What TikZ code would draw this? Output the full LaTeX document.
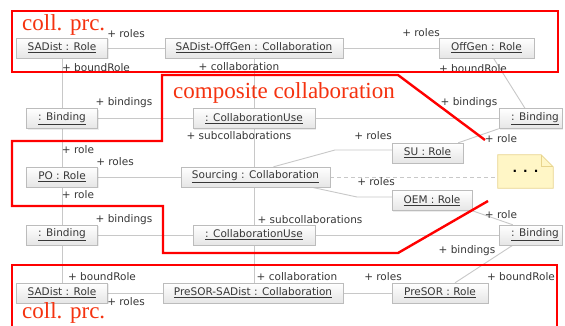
\documentclass[tikz,border=0pt]{standalone}
\usepackage{fontspec}
\setsansfont{DejaVu Sans}
\newfontfamily\redfont{Liberation Serif}
\usetikzlibrary{backgrounds,shadows}
\definecolor{boxborder}{RGB}{188,188,188}
\definecolor{connc}{RGB}{200,200,200}
\definecolor{redtxt}{RGB}{245,50,15}
\definecolor{notefill}{RGB}{255,246,198}
\definecolor{notedraw}{RGB}{232,212,140}
\definecolor{txt}{RGB}{55,55,55}
\begin{document}
\begin{tikzpicture}[x=1pt,y=-1pt,
  obj/.style={draw=boxborder, top color=white, bottom color=black!10,
    minimum height=20pt, inner xsep=2pt, inner ysep=0pt,
    drop shadow={shadow xshift=1pt, shadow yshift=-1pt, opacity=0.15},
    font=\sffamily\fontsize{10.5}{12}\selectfont, text=txt},
  lbl/.style={font=\sffamily\fontsize{10.5}{12}\selectfont, text=txt, inner sep=0pt},
  conn/.style={draw=connc, line width=0.9pt},
  redbox/.style={draw=red, line width=2.4pt},
  redlbl/.style={font=\redfont\fontsize{23}{24}\selectfont, text=redtxt, inner sep=0pt, anchor=base west}]
\clip (0,0) rectangle (565,325);

% ---- objects ----
\node[obj, minimum width=91] (SADistT) at (62,48) {\underline{SADist : Role}};
\node[obj, minimum width=178] (OffGenColl) at (254,48) {\underline{SADist-OffGen : Collaboration}};
\node[obj, minimum width=95] (OffGenRole) at (486.5,48) {\underline{OffGen : Role}};

\node[obj, minimum width=71] (BindL1) at (62,118.5) {\underline{: Binding}};
\node[obj, minimum width=122] (CU1) at (254,118.5) {\underline{: CollaborationUse}};
\node[obj, minimum width=63] (BindR1) at (530.5,118.5) {\hspace*{9pt}\underline{: Binding}};

\node[obj, minimum width=71] (PO) at (62,177) {\underline{PO : Role}};
\node[obj, minimum width=149] (Sourcing) at (255.5,177) {\underline{Sourcing : Collaboration}};
\node[obj, minimum width=71] (SU) at (427.5,153) {\underline{SU : Role}};
\node[obj, minimum width=80] (OEM) at (432,200.5) {\underline{OEM : Role}};

\node[obj, minimum width=71] (BindL2) at (62,235) {\underline{: Binding}};
\node[obj, minimum width=122] (CU2) at (254,235) {\underline{: CollaborationUse}};
\node[obj, minimum width=63] (BindR2) at (530.5,235) {\hspace*{9pt}\underline{: Binding}};

\node[obj, minimum width=91] (SADistB) at (62,293) {\underline{SADist : Role}};
\node[obj, minimum width=180] (PreColl) at (253,293) {\underline{PreSOR-SADist : Collaboration}};
\node[obj, minimum width=96] (PreRole) at (440,293) {\underline{PreSOR : Role}};

% note
\node[minimum width=55, minimum height=33, inner sep=0pt,
      font=\sffamily\bfseries\fontsize{12}{12}\selectfont] (note) at (525.5,171.5)
      {.\hspace{6pt}.\hspace{6pt}.};
\begin{scope}[on background layer]
\fill[white] (0,0) rectangle (565,325);
\draw[notedraw, fill=notefill, line width=0.8pt]
  (note.north west) -- ([xshift=-12pt]note.north east) -- ([yshift=-12pt]note.north east)
  -- (note.south east) -- (note.south west) -- cycle;
\draw[notedraw, line width=0.8pt]
  ([xshift=-12pt]note.north east) -- ([xshift=-12pt,yshift=-12pt]note.north east) -- ([yshift=-12pt]note.north east);

% ---- connectors ----
\draw[conn] (SADistT.east) -- (OffGenColl.west);
\draw[conn] (OffGenColl.east) -- (OffGenRole.west);
\draw[conn] (SADistT.south) -- (BindL1.north);
\draw[conn] (BindL1.south) -- (PO.north);
\draw[conn] (PO.south) -- (BindL2.north);
\draw[conn] (BindL2.south) -- (SADistB.north);
\draw[conn] (OffGenColl.south) -- (CU1.north);
\draw[conn] (CU1.south) -- (CU1.south |- Sourcing.north);
\draw[conn] (CU1.south |- Sourcing.south) -- (CU2.north);
\draw[conn] (CU2.south) -- (CU2.south |- PreColl.north);
\draw[conn] (BindL1.east) -- (CU1.west);
\draw[conn] (CU1.east) -- (BindR1.west);
\draw[conn] ([xshift=7pt]OffGenRole.south) -- ([xshift=-5.5pt]BindR1.north);
\draw[conn] (PO.east) -- (Sourcing.west);
\coordinate (b1) at (335,150);
\coordinate (b2) at (357,197);
\draw[conn] ([xshift=18pt]Sourcing.north) -- (b1) -- (b1 -| SU.west);
\draw[conn] ([xshift=56pt]Sourcing.south) -- (b2) -- (b2 -| OEM.west);
\draw[conn, dashed, dash pattern=on 4pt off 3pt] (Sourcing.east) -- (Sourcing.east -| note.west);
\draw[conn] ([xshift=-5pt]SU.north east) -- (BindR1.south west);
\draw[conn] (OEM.south east) -- ([xshift=14pt]BindR2.north west);
\draw[conn] (BindL2.east) -- (CU2.west);
\draw[conn] (CU2.east) -- (BindR2.west);
\draw[conn] ([xshift=14pt]BindR2.south west) -- ([xshift=15pt]PreRole.north);
\draw[conn] (SADistB.east) -- (PreColl.west);
\draw[conn] (PreColl.east) -- (PreRole.west);
\end{scope}

% ---- role labels ----
\node[lbl] (l1) at (126,34) {+ roles};
\node[lbl] (l2) at (96,68) {+ boundRole};
\node[lbl] (l3) at (239,67) {+ collaboration};
\node[lbl] (l4) at (421,33) {+ roles};
\node[lbl] (l5) at (473,69) {+ boundRole};
\node[lbl] (l6) at (124,103) {+ bindings};
\node[lbl] (l7) at (469,103) {+ bindings};
\node[lbl] (l8) at (239,136) {+ subcollaborations};
\node[lbl] (l9) at (78,150) {+ role};
\node[lbl] (l10) at (115,162) {+ roles};
\node[lbl] (l11) at (373,136) {+ roles};
\node[lbl] (l12) at (501,139) {+ role};
\node[lbl] (l13) at (376,182) {+ roles};
\node[lbl] (l14) at (501,215) {+ role};
\node[lbl] (l15) at (78,195) {+ role};
\node[lbl] (l16) at (124,220) {+ bindings};
\node[lbl] (l17) at (310,220) {+ subcollaborations};
\node[lbl] (l18) at (467,251) {+ bindings};
\node[lbl] (l19) at (102,277) {+ boundRole};
\node[lbl] (l20) at (126,302) {+ roles};
\node[lbl] (l21) at (297,277) {+ collaboration};
\node[lbl] (l22) at (383,277) {+ roles};
\node[lbl] (l23) at (521,277) {+ boundRole};

% ---- red annotations ----
\draw[redbox] (12,11) rectangle (558,72);
\draw[redbox] (12,335) -- (12,265) -- (557,265) -- (557,335);
\draw[redbox, line join=miter] (485,140) -- (398,75) -- (162,75) -- (162,141) -- (12,141)
  -- (12,206) -- (163,206) -- (163,253) -- (398,253) -- (488,201);
\node[redlbl] (t1) at (22,30) {coll. prc.};
\node[redlbl] (t2) at (22,318) {coll. prc.};
\node[redlbl] (t3) at (173,98) {composite collaboration};
\end{tikzpicture}
\end{document}
